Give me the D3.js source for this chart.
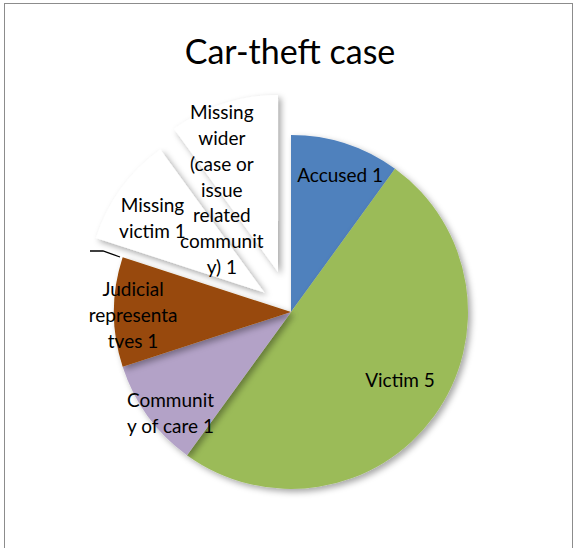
<!DOCTYPE html>
<html>
<head>
<meta charset="utf-8">
<script src="https://cdn.jsdelivr.net/npm/d3@7"></script>
<style>
  body { margin: 0; background: #fff; }
  text { font-family: Lato, "Open Sans", sans-serif; fill: #000; }
</style>
</head>
<body>
<svg width="576" height="548"></svg>
<script>
// chart data
var categories = ["Accused", "Victim", "Community of care", "Judicial representatives", "Missing victim", "Missing wider (case or issue related community)"];
var values = [1, 5, 1, 1, 1, 1];
var labelLines = [
    ["Accused 1"],
    ["Victim 5"],
    ["Communit", "y of care 1"],
    ["Judicial", "representa", "tves 1"],
    ["Missing", "victim 1"],
    ["Missing", "wider", "(case or", "issue", "related", "communit", "y) 1"]
];
var colors = ["#4F81BD", "#9BBB59", "#B3A2C7", "#984807", "#FFFFFF", "#FFFFFF"];

// layout
var cx = 291, cy = 312, radius = 177;
var explode = [0, 0, 0, 0, 33, 42];
var labelR = [145, 129, 158, 158, 134, 99];
var labelShift = [1.8, -3.7, -4.3, -1.5, -2.6, -16.6]; // degrees

var svg = d3.select("svg");

svg.append("rect").attr("x", 4.5).attr("y", 3.5).attr("width", 568).attr("height", 560)
    .attr("fill", "#fff").attr("stroke", "#8c8c8c").attr("stroke-width", 1);

svg.append("text").attr("x", 290).attr("y", 64).attr("text-anchor", "middle")
    .style("font-size", "34px").text("Car-theft case");

var defs = svg.append("defs");
var f = defs.append("filter").attr("id", "shadow").attr("x", "-20%").attr("y", "-20%").attr("width", "140%").attr("height", "140%");
f.append("feDropShadow").attr("dx", 3).attr("dy", 3).attr("stdDeviation", 3)
    .attr("flood-color", "#000").attr("flood-opacity", 0.35);

var pie = d3.pie().sort(null).value(function (d) { return d; });
var arcs = pie(values);
var arc = d3.arc().innerRadius(0).outerRadius(radius);

var g = svg.append("g").attr("transform", "translate(" + cx + "," + cy + ")");

function offset(d, i) {
    var a = (d.startAngle + d.endAngle) / 2;
    return [Math.sin(a) * explode[i], -Math.cos(a) * explode[i]];
}

g.selectAll("path.slice").data(arcs).enter().append("path")
    .attr("class", "slice")
    .attr("transform", function (d, i) { var o = offset(d, i); return "translate(" + o[0] + "," + o[1] + ")"; })
    .attr("d", arc)
    .attr("fill", function (d, i) { return colors[i]; })
    .attr("filter", "url(#shadow)");

// leader line
g.append("path")
    .attr("d", "M" + (-201) + "," + (-61) + "L" + (-188) + "," + (-61) + "L" + (-171) + "," + (-55))
    .attr("fill", "none").attr("stroke", "#000").attr("stroke-width", 1.3);

var lineH = 25.8;
g.selectAll("text.lbl").data(arcs).enter().append("text")
    .attr("class", "lbl")
    .attr("text-anchor", "middle")
    .style("font-size", "19px")
    .each(function (d, i) {
        var a = (d.startAngle + d.endAngle) / 2 + labelShift[i] * Math.PI / 180;
        var o = offset(d, i);
        var x = o[0] + Math.sin(a) * labelR[i];
        var y = o[1] - Math.cos(a) * labelR[i];
        var lines = labelLines[i];
        var y0 = y - (lines.length - 1) * lineH / 2 + 6;
        var t = d3.select(this);
        lines.forEach(function (l, k) {
            t.append("tspan").attr("x", x).attr("y", y0 + k * lineH).text(l);
        });
    });
</script>
</body>
</html>
